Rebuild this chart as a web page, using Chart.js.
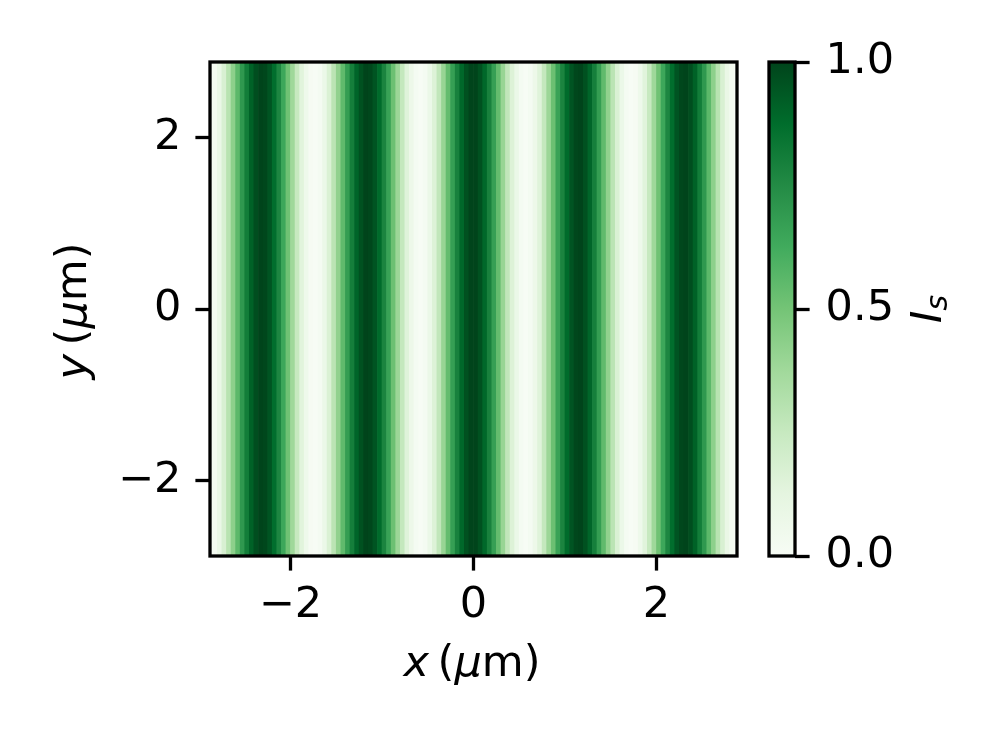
<!DOCTYPE html>
<html>
<head>
<meta charset="utf-8">
<script src="https://cdn.jsdelivr.net/npm/chart.js@4.4.0/dist/chart.umd.min.js"></script>
<style>
  html, body { margin: 0; padding: 0; background: #fff; }
  #wrap { position: relative; width: 996px; height: 745px; }
  #main { position: absolute; left: 0; top: 0; }
  #cbar { position: absolute; left: 740px; top: 0; }
</style>
</head>
<body>
<div id="wrap">
  <canvas id="main" width="996" height="745"></canvas>
  <canvas id="cbar" width="256" height="745"></canvas>
</div>
<script>
// column centres (um) of the intensity map, every row is the same
const xCenters = [
  -2.875, -2.825, -2.775, -2.725, -2.675, -2.625, -2.575, -2.525, -2.475, -2.425,
  -2.375, -2.325, -2.275, -2.225, -2.175, -2.125, -2.075, -2.025, -1.975, -1.925,
  -1.875, -1.825, -1.775, -1.725, -1.675, -1.625, -1.575, -1.525, -1.475, -1.425,
  -1.375, -1.325, -1.275, -1.225, -1.175, -1.125, -1.075, -1.025, -0.975, -0.925,
  -0.875, -0.825, -0.775, -0.725, -0.675, -0.625, -0.575, -0.525, -0.475, -0.425,
  -0.375, -0.325, -0.275, -0.225, -0.175, -0.125, -0.075, -0.025,
   0.025,  0.075,  0.125,  0.175,  0.225,  0.275,  0.325,  0.375,  0.425,  0.475,
   0.525,  0.575,  0.625,  0.675,  0.725,  0.775,  0.825,  0.875,  0.925,  0.975,
   1.025,  1.075,  1.125,  1.175,  1.225,  1.275,  1.325,  1.375,  1.425,  1.475,
   1.525,  1.575,  1.625,  1.675,  1.725,  1.775,  1.825,  1.875,  1.925,  1.975,
   2.025,  2.075,  2.125,  2.175,  2.225,  2.275,  2.325,  2.375,  2.425,  2.475,
   2.525,  2.575,  2.625,  2.675,  2.725,  2.775,  2.825,  2.875];
const intensity = [
  0.00, 0.03, 0.09, 0.18, 0.30, 0.43, 0.56, 0.70, 0.81, 0.91,
  0.97, 1.00, 0.99, 0.95, 0.87, 0.77, 0.64, 0.51, 0.38, 0.25,
  0.14, 0.06, 0.01, 0.00, 0.02, 0.08, 0.17, 0.29, 0.42, 0.55,
  0.68, 0.80, 0.90, 0.96, 1.00, 0.99, 0.95, 0.88, 0.78, 0.66,
  0.52, 0.39, 0.26, 0.15, 0.07, 0.02, 0.00, 0.02, 0.08, 0.16,
  0.27, 0.40, 0.54, 0.67, 0.79, 0.89, 0.96, 1.00,
  1.00, 0.96, 0.89, 0.79, 0.67, 0.54, 0.40, 0.27, 0.16, 0.08,
  0.02, 0.00, 0.02, 0.07, 0.15, 0.26, 0.39, 0.52, 0.66, 0.78,
  0.88, 0.95, 0.99, 1.00, 0.96, 0.90, 0.80, 0.68, 0.55, 0.42,
  0.29, 0.17, 0.08, 0.02, 0.00, 0.01, 0.06, 0.14, 0.25, 0.38,
  0.51, 0.64, 0.77, 0.87, 0.95, 0.99, 1.00, 0.97, 0.91, 0.81,
  0.70, 0.56, 0.43, 0.30, 0.18, 0.09, 0.03, 0.00];
const yRange = [-2.88, 2.88];
const xTicks = [-2, 0, 2];
const yTicks = [-2, 0, 2];
const cbarTicks = [0, 0.5, 1];

// matplotlib "Greens"
const greensStops = ['#f7fcf5', '#e5f5e0', '#c7e9c0', '#a1d99b', '#74c476',
                     '#41ab5d', '#238b45', '#006d2c', '#00441b'];

function hexToRgb(h) {
  return [parseInt(h.slice(1, 3), 16), parseInt(h.slice(3, 5), 16), parseInt(h.slice(5, 7), 16)];
}
function greens(v) {
  v = Math.max(0, Math.min(1, v));
  let p = v * (greensStops.length - 1);
  let i = Math.min(Math.floor(p), greensStops.length - 2);
  let t = p - i;
  let a = hexToRgb(greensStops[i]), b = hexToRgb(greensStops[i + 1]);
  let c = a.map((ai, k) => Math.round(ai + (b[k] - ai) * t));
  return `rgb(${c[0]},${c[1]},${c[2]})`;
}

const FS = 43;
const LW = 3.3;
const FAMILY = "'DejaVu Sans', sans-serif";
Chart.defaults.font.family = FAMILY;
Chart.defaults.font.size = FS;
Chart.defaults.color = '#000';

function minusLabel(v) {
  return v < 0 ? '\u2212' + Math.abs(v) : String(v);
}

// mixed italic / upright text, drawn centred at cx, cy
function drawRich(ctx, parts, cx, cy, rot) {
  ctx.save();
  ctx.translate(cx, cy);
  ctx.rotate(rot);
  ctx.textBaseline = 'middle';
  ctx.textAlign = 'left';
  ctx.fillStyle = '#000';
  let total = 0;
  parts.forEach(p => {
    ctx.font = (p.italic ? 'italic ' : '') + (p.size || FS) + 'px ' + FAMILY;
    p.w = ctx.measureText(p.t).width;
    total += p.w;
  });
  let x = -total / 2;
  parts.forEach(p => {
    ctx.font = (p.italic ? 'italic ' : '') + (p.size || FS) + 'px ' + FAMILY;
    ctx.fillText(p.t, x, p.dy || 0);
    x += p.w;
  });
  ctx.restore();
}

const framePlugin = {
  id: 'frame',
  afterDatasetsDraw(chart) {
    const a = chart.chartArea, ctx = chart.ctx;
    ctx.save();
    ctx.strokeStyle = '#000';
    ctx.lineWidth = LW;
    ctx.strokeRect(a.left, a.top, a.right - a.left, a.bottom - a.top);
    ctx.restore();
  }
};

const axisTitles = {
  id: 'axisTitles',
  afterDraw(chart) {
    const ctx = chart.ctx;
    drawRich(ctx, [{t: 'x', italic: true}, {t: '\u2009(', italic: false},
                   {t: '\u03bc', italic: true}, {t: 'm)', italic: false}], 472, 665, 0);
    drawRich(ctx, [{t: 'y', italic: true}, {t: '\u2009(', italic: false},
                   {t: '\u03bc', italic: true}, {t: 'm)', italic: false}], 75, 311, -Math.PI / 2);
  }
};

const tickGrid = {offset: false, drawOnChartArea: false, drawTicks: true, tickLength: 14.6,
                  tickWidth: LW, tickColor: '#000', color: '#000'};

new Chart(document.getElementById('main'), {
  type: 'bar',
  data: {
    datasets: [{
      data: xCenters.map(x => ({x: x, y: yRange})),
      backgroundColor: intensity.map(greens),
      borderWidth: 0,
      borderSkipped: false,
      barPercentage: 1.15,
      categoryPercentage: 1
    }]
  },
  options: {
    responsive: false,
    animation: false,
    events: [],
    layout: {padding: {top: 62, right: 259, bottom: 0, left: 0}},
    plugins: {legend: {display: false}, tooltip: {enabled: false}},
    scales: {
      x: {
        type: 'linear',
        min: yRange[0],
        max: yRange[1],
        offset: false,
        afterFit: s => { s.height = 189; },
        afterBuildTicks: s => { s.ticks = xTicks.map(v => ({value: v})); },
        ticks: {callback: minusLabel, padding: 9, maxRotation: 0},
        grid: tickGrid,
        border: {display: false}
      },
      y: {
        type: 'linear',
        min: yRange[0],
        max: yRange[1],
        afterFit: s => { s.width = 210; },
        afterBuildTicks: s => { s.ticks = yTicks.map(v => ({value: v})); },
        ticks: {callback: minusLabel, padding: 14},
        grid: tickGrid,
        border: {display: false}
      }
    }
  },
  plugins: [framePlugin, axisTitles]
});

function cbarFill(context) {
  const chart = context.chart;
  const a = chart.chartArea;
  if (!a) return greens(0.5);
  const g = chart.ctx.createLinearGradient(0, a.bottom, 0, a.top);
  greensStops.forEach((c, i) => g.addColorStop(i / (greensStops.length - 1), c));
  return g;
}

const cbarTitle = {
  id: 'cbarTitle',
  afterDraw(chart) {
    drawRich(chart.ctx, [{t: 'I', italic: true}, {t: 's', italic: true, size: FS * 0.7, dy: 9}],
             190, 309, -Math.PI / 2);
  }
};

new Chart(document.getElementById('cbar'), {
  type: 'bar',
  data: {
    labels: ['I_s'],
    datasets: [{
      data: [[0, 1]],
      backgroundColor: cbarFill,
      borderWidth: 0,
      borderSkipped: false,
      barPercentage: 1,
      categoryPercentage: 1
    }]
  },
  options: {
    responsive: false,
    animation: false,
    events: [],
    layout: {padding: {top: 62, right: 0, bottom: 189, left: 29}},
    plugins: {legend: {display: false}, tooltip: {enabled: false}},
    scales: {
      x: {display: false},
      y: {
        position: 'right',
        min: 0,
        max: 1,
        afterFit: s => { s.width = 201; },
        afterBuildTicks: s => { s.ticks = cbarTicks.map(v => ({value: v})); },
        ticks: {callback: v => v.toFixed(1), padding: 16},
        grid: tickGrid,
        border: {display: false}
      }
    }
  },
  plugins: [framePlugin, cbarTitle]
});
</script>
</body>
</html>
